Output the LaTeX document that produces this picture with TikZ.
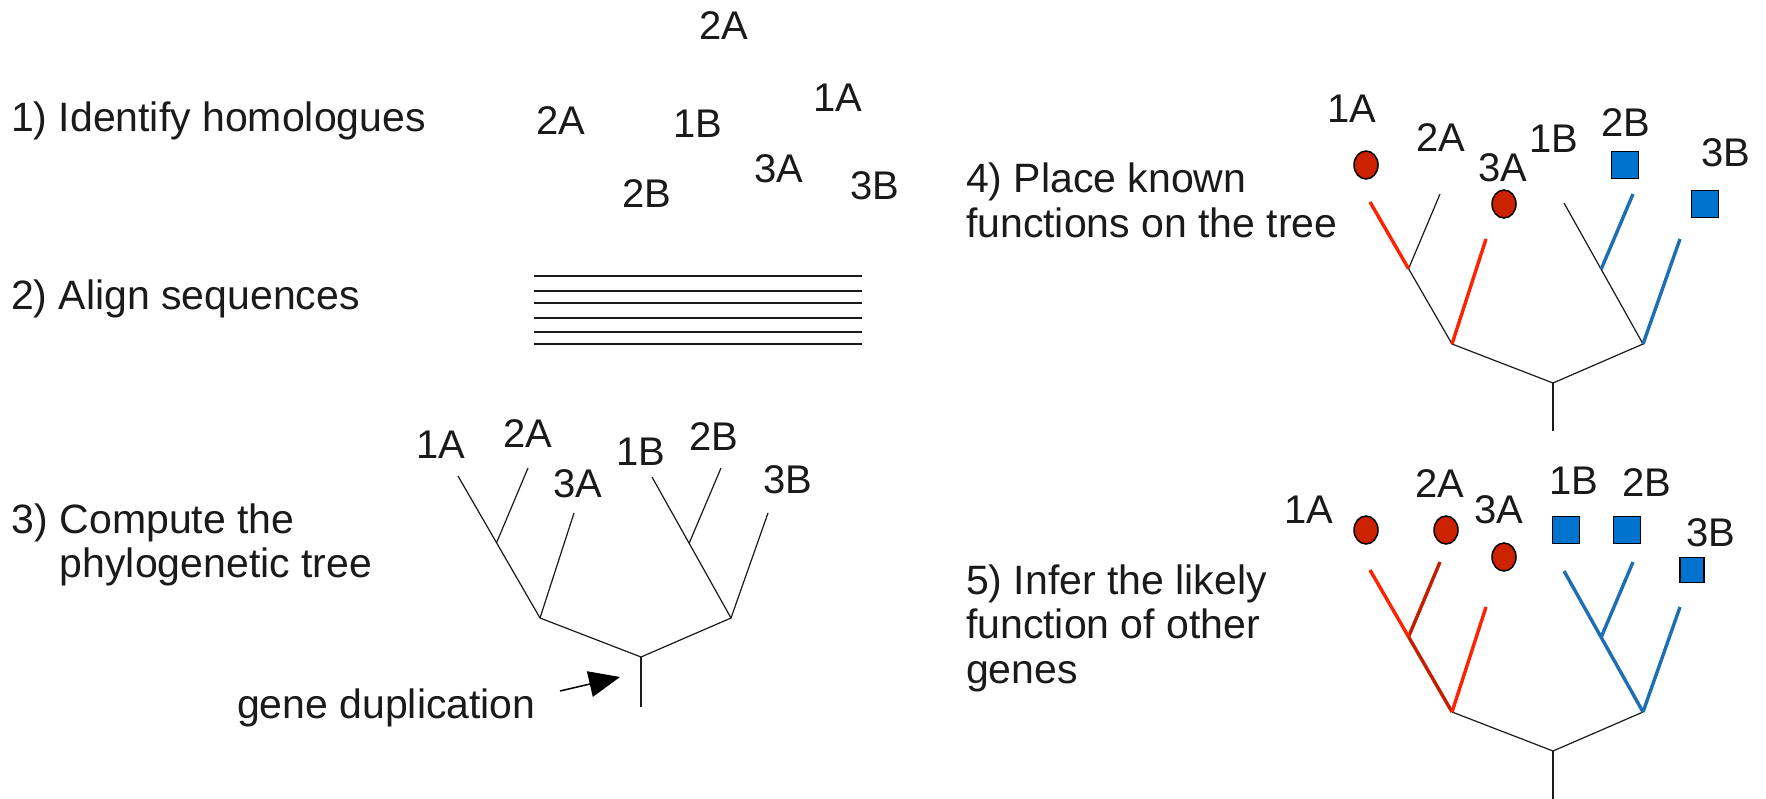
\documentclass[tikz,border=0pt]{standalone}
\usepackage{fontspec}
\setmainfont{Liberation Sans}
\usetikzlibrary{arrows.meta,shapes.geometric,calc}
\definecolor{fred}{HTML}{FF2200}
\definecolor{dred}{HTML}{C41E00}
\definecolor{cred}{HTML}{CC2200}
\definecolor{fblue}{HTML}{1E6EB4}
\definecolor{sblue}{HTML}{0073CF}
\definecolor{ink}{HTML}{1A1A1A}
\tikzset{
  steptext/.style={anchor=base west, inner sep=0pt, outer sep=0pt, text=ink, font=\fontsize{41}{49}\selectfont},
  leaflabel/.style={anchor=base, inner sep=0pt, outer sep=0pt, text=ink, font=\fontsize{40}{48}\selectfont},
  thinbranch/.style={draw=ink, line width=1.2pt},
  redbranch/.style={draw=fred, line width=3.4pt},
  darkredbranch/.style={draw=dred, line width=3.4pt},
  bluebranch/.style={draw=fblue, line width=3.4pt},
  redmark/.style={ellipse, draw=black, line width=1.5pt, fill=cred, minimum width=24pt, minimum height=28pt, inner sep=0pt},
  bluemark/.style={rectangle, draw=black, line width=1.5pt, fill=sblue, minimum width=27pt, minimum height=27pt, inner sep=0pt},
  seqline/.style={draw=ink, line width=2.4pt},
}
\newcommand{\phylotree}[4]{% prefix, root x, root y, base length
  \begin{scope}[shift={(#2,#3)}]
    \coordinate (#1R) at (0,0);
    \coordinate (#1base) at (0,#4);
    \coordinate (#1A) at (-101,-39);
    \coordinate (#1B) at (90,-39);
    \coordinate (#1a1) at (-183,-181);
    \coordinate (#1a2) at (-113,-189);
    \coordinate (#1a3) at (-67,-144);
    \coordinate (#1b1) at (11,-180);
    \coordinate (#1b2) at (80,-189);
    \coordinate (#1b3) at (127,-144);
  \end{scope}
  \coordinate (#1a12) at ($(#1A)!0.53!(#1a1)$);
  \coordinate (#1b12) at ($(#1B)!0.53!(#1b1)$);
}
\begin{document}
\begin{tikzpicture}[x=1pt,y=-1pt]
\fill[white] (0,0) rectangle (1766,799);
\useasboundingbox (0,0) rectangle (1766,799);

% ---------- step texts ----------
\node[steptext] (s1) at (11,132) {1) Identify homologues};
\node[steptext] (s2) at (11,310) {2) Align sequences};
\node[steptext] (s3a) at (12,533) {3) Compute the};
\node[steptext] (s3b) at (12,577) {\phantom{3) }phylogenetic tree};
\node[steptext] (s4a) at (966,193) {4) Place known};
\node[steptext] (s4b) at (966,238) {functions on the tree};
\node[steptext] (s5a) at (966,594) {5) Infer the likely};
\node[steptext] (s5b) at (966,638) {function of other};
\node[steptext] (s5c) at (966,683) {genes};

% ---------- 1) homologues ----------
\node[leaflabel] (h2a) at (724,40) {2A};
\node[leaflabel] (h1a) at (838,112) {1A};
\node[leaflabel] (h2ab) at (561,135) {2A};
\node[leaflabel] (h1b) at (698,138) {1B};
\node[leaflabel] (h3a) at (779,183) {3A};
\node[leaflabel] (h2b) at (647,208) {2B};
\node[leaflabel] (h3b) at (875,200) {3B};

% ---------- 2) alignment ----------
\foreach \yy in {276,291,303,318,332,344}{
  \draw[seqline] (534,\yy) -- (862,\yy);
}

% ---------- 3) tree ----------
\phylotree{t3}{641}{657}{50}
\draw[thinbranch] (t3a1) -- (t3a12) -- (t3A) -- (t3R) -- (t3B) -- (t3b12) -- (t3b1);
\draw[thinbranch] (t3a2) -- (t3a12);
\draw[thinbranch] (t3a3) -- (t3A);
\draw[thinbranch] (t3b2) -- (t3b12);
\draw[thinbranch] (t3b3) -- (t3B);
\draw[thinbranch] (t3R) -- (t3base);
\node[leaflabel] (l3a1) at (441,458) {1A};
\node[leaflabel] (l3a2) at (528,447) {2A};
\node[leaflabel] (l3a3) at (578,497) {3A};
\node[leaflabel] (l3b1) at (641,465) {1B};
\node[leaflabel] (l3b2) at (714,450) {2B};
\node[leaflabel] (l3b3) at (788,493) {3B};
\node[steptext] (gene) at (237,718) {gene duplication};
\coordinate (gds) at (560,691);
\coordinate (gdt) at (620,677);
\draw[draw=black, line width=1.5pt, -{Triangle[length=31pt,width=26pt]}] (gds) -- (gdt);

% ---------- 4) tree with known functions ----------
\phylotree{t4}{1553}{383}{48}
\draw[thinbranch] (t4a2) -- (t4a12) -- (t4A) -- (t4R) -- (t4B) -- (t4b12) -- (t4b1);
\draw[thinbranch] (t4R) -- (t4base);
\draw[redbranch] (t4a1) -- (t4a12);
\draw[redbranch] (t4a3) -- (t4A);
\draw[bluebranch] (t4b2) -- (t4b12);
\draw[bluebranch] (t4b3) -- (t4B);
\node[leaflabel] (l4a1) at (1352,123) {1A};
\node[leaflabel] (l4a2) at (1441,152) {2A};
\node[leaflabel] (l4a3) at (1503,182) {3A};
\node[leaflabel] (l4b1) at (1554,153) {1B};
\node[leaflabel] (l4b2) at (1626,137) {2B};
\node[leaflabel] (l4b3) at (1726,167) {3B};
\node[redmark] (m4a1) at (1366,165) {};
\node[redmark] (m4a3) at (1504,204) {};
\node[bluemark] (m4b2) at (1625,165) {};
\node[bluemark] (m4b3) at (1705,204) {};

% ---------- 5) inferred functions ----------
\phylotree{t5}{1553}{751}{48}
\draw[thinbranch] (t5A) -- (t5R) -- (t5B);
\draw[thinbranch] (t5R) -- (t5base);
\draw[darkredbranch] (t5a2) -- (t5a12) -- (t5A);
\draw[redbranch] (t5a1) -- (t5a12);
\draw[redbranch] (t5a3) -- (t5A);
\draw[bluebranch] (t5b1) -- (t5b12) -- (t5B);
\draw[bluebranch] (t5b2) -- (t5b12);
\draw[bluebranch] (t5b3) -- (t5B);
\node[leaflabel] (l5a1) at (1309,523) {1A};
\node[leaflabel] (l5a2) at (1440,497) {2A};
\node[leaflabel] (l5a3) at (1499,523) {3A};
\node[leaflabel] (l5b1) at (1574,494) {1B};
\node[leaflabel] (l5b2) at (1647,496) {2B};
\node[leaflabel] (l5b3) at (1711,546) {3B};
\node[redmark] (m5a1) at (1366,530) {};
\node[redmark] (m5a2) at (1446,530) {};
\node[redmark] (m5a3) at (1504,557) {};
\node[bluemark] (m5b1) at (1566,530) {};
\node[bluemark] (m5b2) at (1627,530) {};
\node[bluemark, minimum width=24pt, minimum height=25pt] (m5b3) at (1692,570) {};
\end{tikzpicture}
\end{document}
